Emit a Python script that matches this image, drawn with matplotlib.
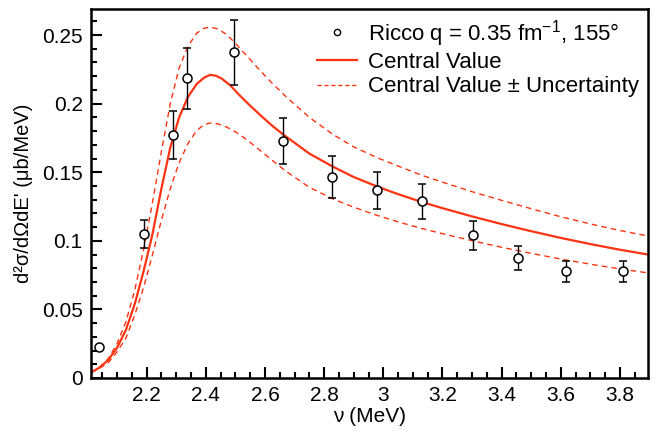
import numpy as np
import matplotlib.pyplot as plt
from matplotlib.ticker import MultipleLocator

plt.rcParams['font.family'] = ['Liberation Sans', 'DejaVu Sans']

# Ricco data, q = 0.35 fm^-1, 155 deg
nu_data = [2.04, 2.19, 2.29, 2.335, 2.497, 2.66, 2.825, 2.98, 3.13, 3.303, 3.455, 3.619, 3.81]
xs_data = [0.0223, 0.105, 0.1768, 0.2184, 0.2373, 0.1727, 0.1465, 0.1367, 0.1287, 0.1039, 0.0875, 0.0777, 0.0777]
xs_err = [0.0, 0.0105, 0.0175, 0.022, 0.024, 0.017, 0.015, 0.0135, 0.013, 0.0105, 0.0085, 0.0077, 0.0077]

# curves
nu_c = [2.012, 2.04, 2.07, 2.10, 2.13, 2.16, 2.19, 2.22, 2.25, 2.28, 2.31, 2.34, 2.37, 2.395,
        2.415, 2.435, 2.454, 2.482, 2.511, 2.55, 2.59, 2.625, 2.663, 2.75, 2.83, 2.90, 2.98, 3.05,
        3.13, 3.20, 3.30, 3.40, 3.49, 3.60, 3.71, 3.80, 3.895]
xs_c = [0.004, 0.0075, 0.013, 0.022, 0.035, 0.054, 0.078, 0.105, 0.138, 0.168, 0.190, 0.205, 0.2145, 0.219,
        0.221, 0.2203, 0.2182, 0.2135, 0.2068, 0.1985, 0.1905, 0.1838, 0.1773, 0.1636, 0.1540, 0.1465, 0.1395, 0.1340,
        0.1283, 0.1238, 0.1178, 0.1122, 0.1075, 0.1021, 0.0972, 0.0935, 0.0900]

# upper band
nu_u = [2.012, 2.04, 2.07, 2.10, 2.13, 2.16, 2.19, 2.22, 2.25, 2.28, 2.31, 2.34, 2.37, 2.395,
        2.415, 2.44, 2.47, 2.50, 2.54, 2.58, 2.62, 2.669, 2.75, 2.83, 2.90, 2.98, 3.05,
        3.13, 3.20, 3.30, 3.40, 3.49, 3.60, 3.71, 3.80, 3.895]
xs_u = [0.004, 0.0075, 0.014, 0.025, 0.041, 0.064, 0.094, 0.128, 0.165, 0.200, 0.226, 0.242, 0.2515, 0.255,
        0.2558, 0.2545, 0.2505, 0.2440, 0.2345, 0.2250, 0.2158, 0.2055, 0.1900, 0.1775, 0.1685, 0.1605, 0.1545,
        0.1478, 0.1428, 0.1358, 0.1295, 0.1240, 0.1175, 0.1118, 0.1075, 0.1035]

# lower band
nu_l = [2.012, 2.04, 2.07, 2.10, 2.13, 2.16, 2.19, 2.22, 2.25, 2.28, 2.31, 2.34, 2.37, 2.395,
        2.415, 2.44, 2.47, 2.50, 2.54, 2.58, 2.62, 2.669, 2.75, 2.83, 2.90, 2.98, 3.05,
        3.13, 3.20, 3.30, 3.40, 3.49, 3.60, 3.71, 3.80, 3.895]
xs_l = [0.004, 0.007, 0.011, 0.019, 0.029, 0.046, 0.066, 0.090, 0.115, 0.138, 0.157, 0.171, 0.1805, 0.1848,
        0.1859, 0.1853, 0.1830, 0.1795, 0.1735, 0.1665, 0.1595, 0.1510, 0.1390, 0.1305, 0.1245, 0.1185, 0.1138,
        0.1090, 0.1052, 0.1001, 0.0953, 0.0913, 0.0867, 0.0826, 0.0795, 0.0766]

red = '#ff3311'

fig = plt.figure(figsize=(6.68, 4.38), dpi=100)
ax = fig.add_axes([0.1362, 0.137, 0.834, 0.8425])

ax.errorbar(nu_data, xs_data, yerr=xs_err, fmt='o', mfc='white', mec='black', ecolor='black',
            ms=6.5, mew=1.1, elinewidth=1, capsize=3, capthick=1, zorder=3)
ax.plot(nu_c, xs_c, color=red, lw=1.6, zorder=2)
ax.plot(nu_u, xs_u, color=red, lw=1, ls=(0, (4, 3)), zorder=2)
ax.plot(nu_l, xs_l, color=red, lw=1, ls=(0, (4, 3)), zorder=2)

# legend entries
h1, = ax.plot([], [], 'o', mfc='white', mec='black', ms=4.5, mew=1)
h2, = ax.plot([], [], color=red, lw=1.6)
h3, = ax.plot([], [], color=red, lw=1, ls=(0, (3, 2)))
ax.legend([h1, h2, h3],
          ['Ricco q = 0.35 fm$^{\\mathregular{-1}}$, 155°', 'Central Value',
           'Central Value ± Uncertainty'],
          loc='upper right', frameon=False, fontsize=16, handlelength=1.8,
          labelspacing=0.15, borderaxespad=0.1, borderpad=0.3, handletextpad=0.5)

ax.set_xlim(2.012, 3.895)
ax.set_ylim(0, 0.269)
ax.xaxis.set_minor_locator(MultipleLocator(0.05))
ax.yaxis.set_minor_locator(MultipleLocator(0.01))
ax.set_xticks([2.2, 2.4, 2.6, 2.8, 3.0, 3.2, 3.4, 3.6, 3.8])
ax.set_xticklabels(['2.2', '2.4', '2.6', '2.8', '3', '3.2', '3.4', '3.6', '3.8'])
ax.set_yticks([0, 0.05, 0.1, 0.15, 0.2, 0.25])
ax.set_yticklabels(['0', '0.05', '0.1', '0.15', '0.2', '0.25'])

ax.tick_params(which='both', direction='in', top=False, right=False, labelsize=15, width=1.5)
ax.tick_params(which='major', length=8, pad=6)
ax.tick_params(which='minor', length=4)
for s in ax.spines.values():
    s.set_linewidth(1.8)

ax.set_xlabel('ν (MeV)', fontsize=15, labelpad=1)
ax.set_ylabel("d²σ/dΩdE' (μb/MeV)", fontsize=14.5, labelpad=6)

fig.savefig('out.png', dpi=100)
